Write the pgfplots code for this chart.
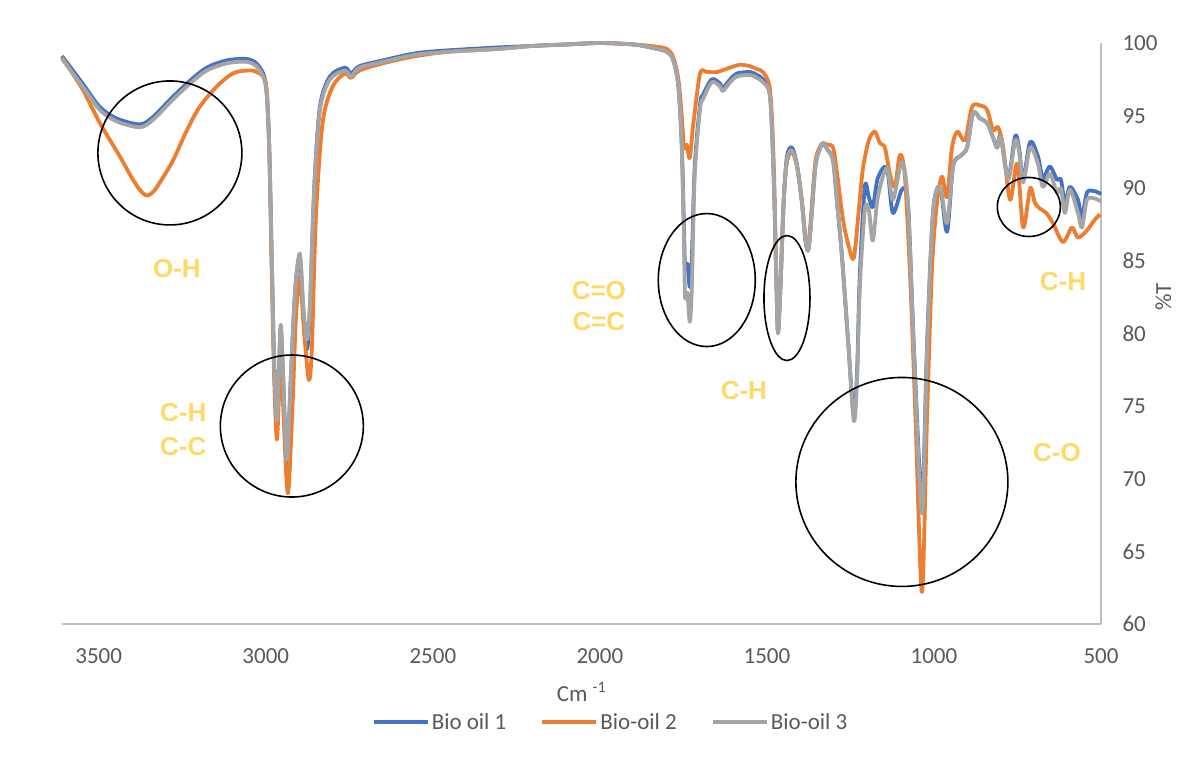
\documentclass[border=0pt]{standalone}
\usepackage{pgfplots}
\pgfplotsset{compat=1.18}
\usepackage{fontspec}
\setmainfont{Carlito}
\newfontfamily\labfont{Liberation Sans}
\definecolor{c1}{HTML}{4472C4}
\definecolor{c2}{HTML}{ED7D31}
\definecolor{c3}{HTML}{A5A5A5}
\definecolor{lab}{HTML}{FFD966}
\definecolor{axc}{HTML}{BFBFBF}
\definecolor{tickc}{HTML}{595959}
\begin{document}
\begin{tikzpicture}
\useasboundingbox (0,0) rectangle (1179pt,758pt);
\begin{axis}[
  at={(62pt,134pt)}, anchor=south west,
  scale only axis, width=1039pt, height=581pt,
  x dir=reverse, xmin=500, xmax=3610, ymin=60, ymax=100,
  clip=false,
  axis line style={draw=none},
  major tick length=0pt,
  xtick={500,1000,...,3500}, ytick={60,65,...,100},
  xticklabel pos=lower, yticklabel pos=right,
  /pgf/number format/assume math mode=true,
  /pgf/number format/set thousands separator={},
  xticklabel style={font=\fontsize{23}{27}\selectfont, text=tickc, yshift=-21pt},
  yticklabel style={font=\fontsize{23}{27}\selectfont, text=tickc, anchor=west, xshift=18pt},
  legend columns=3,
  legend style={draw=none, fill=none, at={(axis description cs:0.528,-0.169)}, anchor=center,
    font=\fontsize{23}{27}\selectfont, text=tickc,
    /tikz/every even column/.append style={column sep=32pt}},
  legend image code/.code={\draw[#1, line width=4pt] (0pt,0pt) -- (54pt,0pt);},
  every axis plot/.append style={line width=3.8pt, line join=round, mark=none, smooth, tension=0.5},
]
\draw[axc, line width=1.5pt] (axis description cs:0,0) -- (axis description cs:1,0);
\draw[axc, line width=1.5pt] (axis description cs:1,0) -- (axis description cs:1,1);

% Bio oil 1
\addplot[c1] coordinates {
(3610,99.1)(3548,97.2)(3497,95.6)(3446,94.8)(3377,94.4)(3338,94.9)(3278,96.3)(3227,97.4)
(3177,98.3)(3117,98.8)(3057,98.9)(3024,98.5)(3000,97.2)
(2990,93)(2982,85)(2975,78)(2967,73.8)(2960,78)(2955,80.4)(2948,77)(2937,71.0)(2925,77)
(2912,83)(2898,85.3)(2888,81.5)(2877,78.9)(2868,81.5)(2855,90)(2838,95.6)(2808,97.7)
(2763,98.3)(2745,97.9)(2720,98.4)(2650,98.8)(2550,99.3)(2450,99.5)(2300,99.7)(2200,99.8)
(2100,99.9)(2000,100)(1900,99.9)(1850,99.7)(1800,99.4)(1780,98.8)(1765,97)(1755,93)
(1748,87)(1745,84.6)(1738,84.8)(1731,83.2)(1725,85)(1716,91.5)(1700,95.8)(1692,96.4)
(1665,97.5)(1640,97.2)(1632,96.9)(1610,97.5)(1590,97.9)(1551,98.0)(1530,97.8)(1512,97.5)
(1491,96.5)(1480,91)(1472,84)(1467,80.2)(1460,83)(1450,89)(1440,92.2)(1425,92.8)
(1410,91.6)(1395,89)(1385,86.5)(1377,85.7)(1370,87)(1355,91.5)(1340,92.8)(1332,93.1)
(1320,92.7)(1302,91.9)(1290,89)(1276,85.5)(1258,79.8)(1240,74.4)(1230,77.5)(1222,84)
(1207,90.1)(1195,89.4)(1183,88.7)(1168,90.7)(1141,91.4)(1123,88.3)(1096,89.9)(1078,89.0)
(1060,79)(1036,68.5)(1021,79)(1003,88.3)(982,90.1)(961,87.0)(943,91.5)(922,92.2)
(901,92.8)(883,95.2)(862,94.8)(841,94.5)(823,93.5)(811,92.8)(800,93.6)(778,90.7)
(757,93.6)(745,92.7)(733,90.6)(712,93.2)(689,92.2)(674,90.7)(653,91.5)(632,90.6)
(620,90.6)(608,89.0)(593,90.1)(569,89.2)(557,88.0)(542,89.7)(520,89.8)(500,89.6)
};
\addlegendentry{Bio oil 1}

% Bio-oil 2
\addplot[c2] coordinates {
(3610,99.0)(3548,96.8)(3497,94.5)(3437,92.2)(3398,90.6)(3370,89.7)(3353,89.5)(3335,89.8)
(3317,90.4)(3278,91.9)(3236,94.0)(3198,95.6)(3147,97.0)(3099,97.9)(3057,98.1)(3027,98.0)
(3000,97.2)(2990,93)
(2982,84)(2975,77)(2967,72.7)(2960,76)(2955,78.5)(2948,75)(2934,69.0)(2920,75)(2910,81)
(2898,83.9)(2885,80)(2871,76.8)(2862,79)(2850,88)(2830,94.5)(2800,97.0)(2763,97.9)
(2745,97.6)(2720,98.1)(2650,98.6)(2550,99.1)(2450,99.4)(2300,99.6)(2200,99.8)(2100,99.9)
(2000,100)(1900,99.9)(1850,99.8)(1800,99.6)(1780,99.0)(1765,97.5)(1755,95)(1748,92.8)
(1740,93.0)(1731,92.1)(1720,94.5)(1700,97.9)(1680,98.0)(1650,98.0)(1611,98.3)(1580,98.5)
(1550,98.4)(1530,98.2)(1512,98.0)(1491,96.8)(1480,92)(1472,84)(1467,80.1)(1460,83)
(1450,89)(1440,91.8)(1425,92.5)(1410,91.5)(1395,89)(1385,86.5)(1377,86.1)(1370,87.5)
(1355,91.8)(1340,92.9)(1332,93.1)(1320,93.0)(1302,92.8)(1290,91)(1272,87.8)(1255,86.0)
(1240,85.2)(1225,88.5)(1213,91.3)(1195,93.3)(1177,93.9)(1162,93.1)(1147,92.8)(1132,91.0)
(1117,90.1)(1102,92.3)(1087,90.8)(1070,83.2)(1055,74.0)(1036,62.2)(1021,74.0)(1006,84.4)
(991,89.0)(976,90.8)(961,89.4)(946,92.8)(930,93.9)(907,93.3)(886,95.6)(862,95.7)
(841,95.4)(823,94.0)(808,94.2)(793,92.8)(772,89.2)(751,91.7)(733,87.3)(712,90.0)
(698,89.0)(683,88.6)(664,88.3)(644,87.6)(614,86.3)(587,87.3)(569,86.6)(542,87.1)
(520,87.8)(503,88.2)
};
\addlegendentry{Bio-oil 2}

% Bio-oil 3
\addplot[c3] coordinates {
(3610,98.9)(3548,97.0)(3497,95.4)(3446,94.6)(3377,94.2)(3338,94.7)(3278,96.1)(3227,97.2)
(3177,98.1)(3117,98.6)(3057,98.7)(3024,98.3)(3000,97.0)
(2990,93)(2982,85)(2975,78)(2967,74.0)(2960,78)(2955,80.6)(2948,77)(2937,71.3)(2925,77)
(2912,83)(2898,85.5)(2888,82)(2877,79.6)(2868,82)(2855,90)(2838,95.4)(2808,97.5)
(2763,98.1)(2745,97.7)(2720,98.3)(2650,98.7)(2550,99.2)(2450,99.4)(2300,99.6)(2200,99.8)
(2100,99.9)(2000,100)(1900,99.9)(1850,99.7)(1800,99.4)(1780,98.8)(1765,97)(1755,93)
(1748,86)(1745,82.5)(1738,82.8)(1731,80.8)(1725,83)(1716,91.0)(1700,95.5)(1692,96.1)
(1665,97.3)(1640,97.0)(1632,96.7)(1610,97.3)(1590,97.7)(1551,97.8)(1530,97.6)(1512,97.3)
(1491,96.3)(1480,91)(1472,84)(1467,80.0)(1460,83)(1450,89)(1440,92.0)(1425,92.6)
(1410,91.5)(1395,89)(1385,86.5)(1377,85.7)(1370,87)(1355,91.5)(1340,92.8)(1332,93.1)
(1320,92.7)(1302,91.9)(1290,89)(1276,85.5)(1258,79.8)(1240,74.0)(1230,77)(1222,83.2)
(1207,88.5)(1195,88.5)(1183,86.4)(1168,89.4)(1141,91.4)(1123,89.2)(1096,91.8)(1078,89.0)
(1060,78.7)(1036,67.6)(1021,78.7)(1003,88.3)(982,90.1)(961,87.6)(943,91.5)(922,92.2)
(901,92.8)(883,95.2)(862,94.8)(841,94.5)(823,93.5)(811,92.8)(800,93.5)(778,90.6)
(757,93.3)(745,92.5)(733,90.4)(712,92.8)(689,91.7)(674,90.1)(653,91.0)(632,89.7)
(620,90.0)(608,88.3)(593,89.9)(569,88.3)(557,87.3)(542,89.2)(520,89.3)(500,89.1)
};
\addlegendentry{Bio-oil 3}

% circles
\draw[black, line width=1.6pt] (axis cs:3287,92.43) ellipse [x radius=72pt, y radius=72pt];
\draw[black, line width=1.6pt] (axis cs:2922,73.63) ellipse [x radius=71.5pt, y radius=71pt];
\draw[black, line width=1.6pt] (axis cs:1680,83.68) ellipse [x radius=48.5pt, y radius=66.5pt];
\draw[black, line width=1.6pt] (axis cs:1440,82.44) ellipse [x radius=23pt, y radius=62.5pt];
\draw[black, line width=1.6pt] (axis cs:1096,69.78) ellipse [x radius=106pt, y radius=104.5pt];
\draw[black, line width=1.6pt] (axis cs:716,88.71) ellipse [x radius=31.5pt, y radius=29.5pt];

% labels
\begin{scope}[every node/.style={font=\labfont\bfseries\fontsize{26}{34}\selectfont, text=lab, align=center, inner sep=0pt}]
\node at (axis cs:3266,84.5) {O-H};
\node at (axis cs:3247,73.36) {C-H\\C-C};
\node[font=\labfont\bfseries\fontsize{26}{31}\selectfont] at (axis cs:2003,81.86) {C=O\\C=C};
\node at (axis cs:1569,76.1) {C-H};
\node at (axis cs:632,71.8) {C-O};
\node at (axis cs:614,83.55) {C-H};
\end{scope}

\node[text=tickc, font=\fontsize{23}{27}\selectfont] at (axis description cs:0.5,-0.117) {Cm \textsuperscript{-1}};
\node[text=tickc, font=\fontsize{23}{27}\selectfont, rotate=90, inner sep=0pt] at (axis description cs:1.06,0.563) {\%T};
\end{axis}
\end{tikzpicture}
\end{document}
